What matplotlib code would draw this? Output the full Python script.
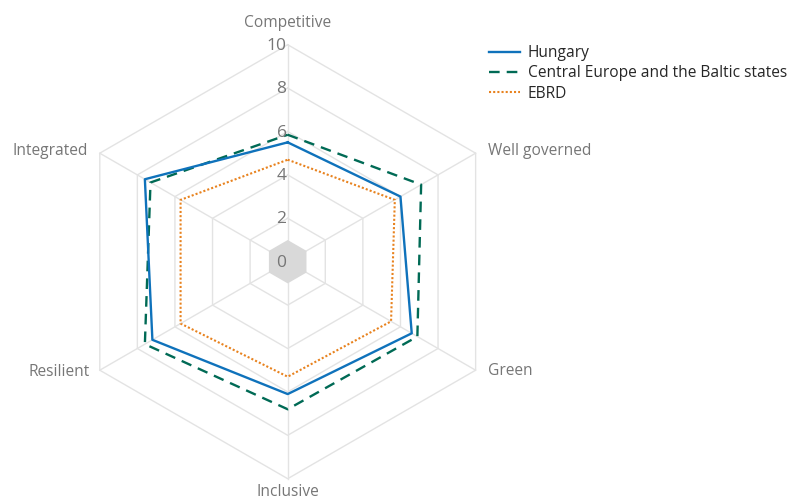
import matplotlib.pyplot as plt
import numpy as np

# Radar chart: Hungary vs regional averages
categories = ['Competitive', 'Well governed', 'Green', 'Inclusive', 'Resilient', 'Integrated']
hungary = [5.5, 6.0, 6.6, 6.1, 7.2, 7.6]
ceb = [5.85, 7.1, 6.9, 6.8, 7.6, 7.3]
ebrd = [4.7, 5.7, 5.5, 5.3, 5.7, 5.7]
series_names = ['Hungary', 'Central Europe and the Baltic states', 'EBRD']
rings = [2, 4, 6, 8, 10]

angles = np.deg2rad([90, 30, -30, -90, -150, 150])


def to_xy(vals):
    vals = np.append(vals, vals[0])
    a = np.append(angles, angles[0])
    return vals * np.cos(a), vals * np.sin(a)


plt.rcParams['font.family'] = ['Open Sans', 'DejaVu Sans']

fig = plt.figure(figsize=(7.99, 4.99), dpi=100)
ax = fig.add_axes([0, 0, 1, 1])
scale = 21.7  # pixels per unit
cx, cy = 287.7, 261.7
ax.set_xlim(-cx / scale, (799 - cx) / scale)
ax.set_ylim(-(499 - cy) / scale, cy / scale)
ax.axis('off')

grid_color = '#e3e3e3'
# centre hexagon
hx, hy = to_xy(np.ones(6))
ax.fill(hx, hy, color='#d9d9d9', zorder=1, lw=0)
for r in rings:
    gx, gy = to_xy(np.full(6, r))
    ax.plot(gx, gy, color=grid_color, lw=1, zorder=0)
for a in angles:
    ax.plot([0, 10 * np.cos(a)], [0, 10 * np.sin(a)], color=grid_color, lw=1, zorder=0)

# tick labels
for r in [0] + rings:
    ax.text(-0.05, r - 0.05, str(r), ha='right', va='center', fontsize=12.5, color='#767676', zorder=5)

# series
x, y = to_xy(hungary)
ax.plot(x, y, color='#0f72bb', lw=1.7, label=series_names[0], zorder=4)
x, y = to_xy(ceb)
ax.plot(x, y, color='#006a55', lw=1.7, ls=(0, (4.5, 3)), label=series_names[1], zorder=3)
x, y = to_xy(ebrd)
ax.plot(x, y, color='#e8821e', lw=1.5, ls=(0, (1, 1)), label=series_names[2], zorder=3)

# axis labels
lab_color = '#767676'
fs = 11.2
ax.text(0, 11.0, categories[0], ha='center', va='center', fontsize=fs, color=lab_color)
ax.text(200.3 / scale, 5.1, categories[1], ha='left', va='center', fontsize=fs, color=lab_color)
ax.text(200.3 / scale, -5.05, categories[2], ha='left', va='center', fontsize=fs, color=lab_color)
ax.text(0, -10.62, categories[3], ha='center', va='center', fontsize=fs, color=lab_color)
ax.text(-197.7 / scale, -5.1, categories[4], ha='right', va='center', fontsize=fs, color=lab_color)
ax.text(-199.7 / scale, 5.1, categories[5], ha='right', va='center', fontsize=fs, color=lab_color)

leg = ax.legend(loc='upper left', bbox_to_anchor=(489 / 799, 1 - 45 / 499), frameon=False,
                fontsize=11.2, handlelength=2.0, handletextpad=0.5, labelspacing=0.28,
                borderaxespad=0, borderpad=0)
for t in leg.get_texts():
    t.set_color('#262626')

plt.savefig('out.png', dpi=100)
